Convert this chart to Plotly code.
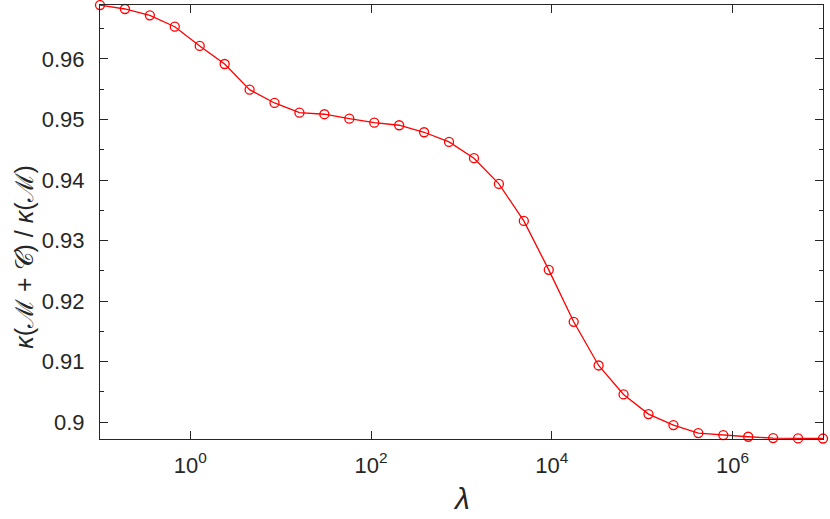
import numpy as np
import plotly.graph_objects as go

# lambda values: 30 log-spaced points from 1e-1 to 1e7
lam_exp_start = -1
lam_exp_end = 7
n_points = 30
lam = np.logspace(lam_exp_start, lam_exp_end, n_points)

ratio = [0.96890, 0.96826, 0.96722, 0.96533, 0.96215, 0.95917, 0.95493, 0.95273,
         0.95113, 0.95087, 0.95014, 0.94948, 0.94905, 0.94789, 0.94629, 0.94360,
         0.93936, 0.93324, 0.92515, 0.91657, 0.90935, 0.90456, 0.90132, 0.89950,
         0.89818, 0.89785, 0.89757, 0.89735, 0.89730, 0.89728]

x_tick_vals = [1, 1e2, 1e4, 1e6]
x_tick_text = ["10<sup>0</sup>", "10<sup>2</sup>", "10<sup>4</sup>", "10<sup>6</sup>"]
y_tick_vals = [0.9, 0.91, 0.92, 0.93, 0.94, 0.95, 0.96]
y_tick_text = ["0.9", "0.91", "0.92", "0.93", "0.94", "0.95", "0.96"]
y_minor_vals = [0.905, 0.915, 0.925, 0.935, 0.945, 0.955, 0.965]
y_range = [0.8972, 0.96892]
y_title = "<i>κ</i>(ℳ + 𝒞) / <i>κ</i>(ℳ)"
x_title = "<i>λ</i>"

axis_col = "#262626"
font_fam = "Liberation Sans, Arial, Helvetica, sans-serif"

fig = go.Figure()
fig.add_trace(go.Scatter(
    x=lam, y=ratio, mode="lines+markers",
    line=dict(color="#ff0000", width=1.3),
    marker=dict(symbol="circle-open", size=9, color="#ff0000", line=dict(width=1.3, color="#ff0000")),
    cliponaxis=False, showlegend=False,
))

fig.update_layout(
    width=830, height=519,
    margin=dict(l=100, r=7, t=5, b=80),
    paper_bgcolor="white", plot_bgcolor="white",
    font=dict(family=font_fam, color=axis_col, size=22),
)
fig.update_xaxes(
    type="log", range=[lam_exp_start, lam_exp_end], automargin=False,
    tickmode="array", tickvals=x_tick_vals, ticktext=x_tick_text,
    ticks="inside", ticklen=8, tickwidth=1.2, tickcolor=axis_col,
    showline=True, linecolor=axis_col, linewidth=1.2, mirror="ticks",
    showgrid=False, zeroline=False, layer="above traces",
    tickfont=dict(size=22, color=axis_col),
    ticklabelstandoff=6,
)
fig.update_yaxes(
    range=y_range, automargin=False,
    tickmode="array", tickvals=y_tick_vals, ticktext=y_tick_text,
    ticks="inside", ticklen=8, tickwidth=1.2, tickcolor=axis_col,
    minor=dict(tickvals=y_minor_vals,
               ticks="inside", ticklen=4, tickwidth=1.2, tickcolor=axis_col, showgrid=False),
    showline=True, linecolor=axis_col, linewidth=1.2, mirror="ticks",
    showgrid=False, zeroline=False, layer="above traces",
    tickfont=dict(size=22, color=axis_col),
    ticklabelstandoff=10,
)
fig.add_annotation(
    text=y_title, textangle=-90, showarrow=False,
    xref="paper", yref="paper", x=0, y=0.42, xanchor="center", yanchor="middle",
    xshift=-76, font=dict(size=25, color=axis_col),
)
fig.add_annotation(
    text=x_title, showarrow=False,
    xref="paper", yref="paper", x=0.5, y=0, xanchor="center", yanchor="top",
    yshift=-41, font=dict(size=30, color=axis_col),
)

fig.write_html(
    "out.html",
    config={"displayModeBar": False},
    post_script=(
        "document.body.style.margin='0';document.body.style.padding='0';"
        "document.body.style.overflow='hidden';"
        "document.documentElement.style.overflow='hidden';"
    ),
)
